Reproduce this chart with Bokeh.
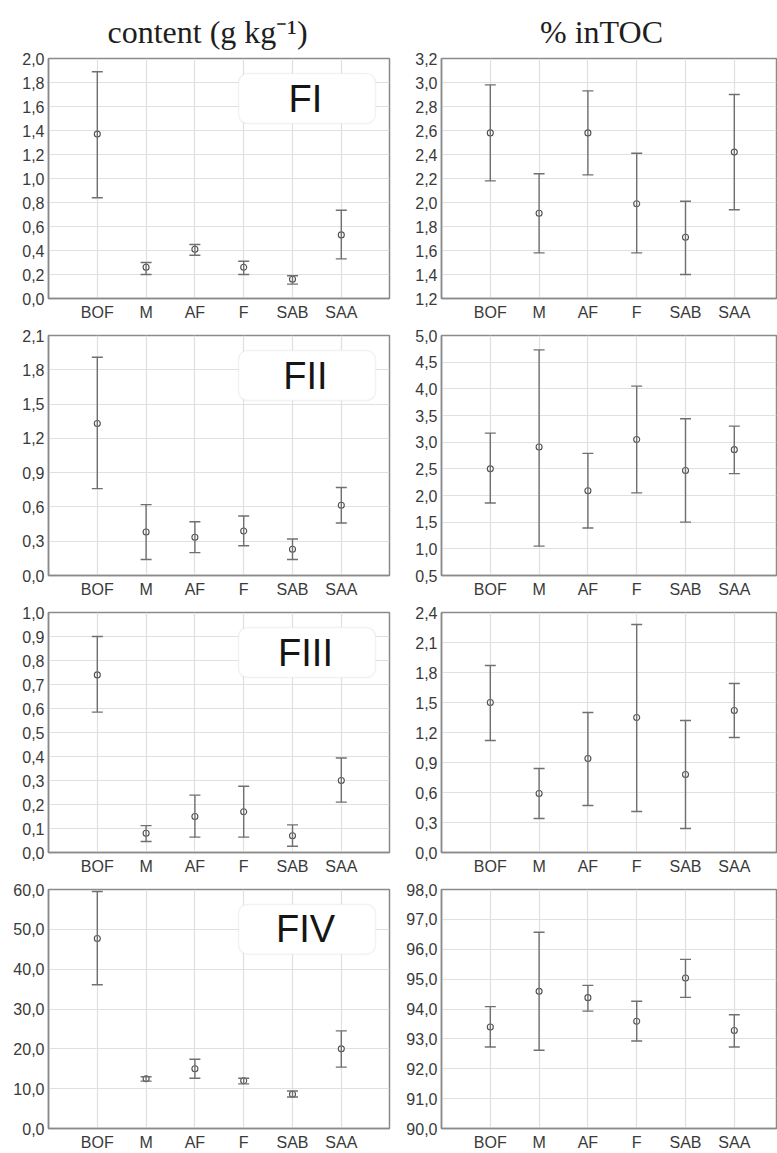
from bokeh.plotting import figure
from bokeh.models import (Range1d, FixedTicker, CustomJSTickFormatter, Whisker,
                          TeeHead, ColumnDataSource, BoxAnnotation, Label)
from bokeh.layouts import column, gridplot
from bokeh.embed import file_html
from bokeh.resources import INLINE
from bokeh.core.properties import value

# ---------------- data ----------------
categories = ["BOF", "M", "AF", "F", "SAB", "SAA"]
fractions = ["FI", "FII", "FIII", "FIV"]
headers = ["content (g kg\u207b\u00b9)", "% inTOC"]

# content (g kg-1)
fI_content_mean = [1.37, 0.26, 0.41, 0.26, 0.16, 0.53]
fI_content_low = [0.84, 0.20, 0.36, 0.20, 0.12, 0.33]
fI_content_high = [1.89, 0.30, 0.45, 0.31, 0.19, 0.735]

fII_content_mean = [1.33, 0.38, 0.335, 0.39, 0.23, 0.615]
fII_content_low = [0.76, 0.14, 0.20, 0.26, 0.14, 0.46]
fII_content_high = [1.91, 0.62, 0.47, 0.52, 0.32, 0.77]

fIII_content_mean = [0.74, 0.08, 0.15, 0.17, 0.07, 0.30]
fIII_content_low = [0.585, 0.046, 0.064, 0.064, 0.026, 0.21]
fIII_content_high = [0.90, 0.112, 0.239, 0.276, 0.115, 0.394]

fIV_content_mean = [47.7, 12.5, 15.0, 12.0, 8.6, 20.0]
fIV_content_low = [36.1, 11.9, 12.6, 11.2, 7.9, 15.4]
fIV_content_high = [59.5, 13.0, 17.4, 12.6, 9.4, 24.5]

# % in TOC
fI_toc_mean = [2.58, 1.91, 2.58, 1.99, 1.71, 2.42]
fI_toc_low = [2.18, 1.58, 2.23, 1.58, 1.40, 1.94]
fI_toc_high = [2.98, 2.24, 2.93, 2.41, 2.01, 2.90]

fII_toc_mean = [2.50, 2.91, 2.09, 3.05, 2.47, 2.86]
fII_toc_low = [1.86, 1.05, 1.39, 2.05, 1.50, 2.41]
fII_toc_high = [3.17, 4.73, 2.79, 4.05, 3.44, 3.30]

fIII_toc_mean = [1.50, 0.59, 0.94, 1.35, 0.78, 1.42]
fIII_toc_low = [1.12, 0.34, 0.47, 0.41, 0.24, 1.15]
fIII_toc_high = [1.87, 0.84, 1.40, 2.28, 1.32, 1.69]

fIV_toc_mean = [93.40, 94.59, 94.38, 93.59, 95.04, 93.28]
fIV_toc_low = [92.73, 92.62, 93.93, 92.93, 94.39, 92.73]
fIV_toc_high = [94.08, 96.57, 94.79, 94.26, 95.66, 93.81]

# y axis limits: (min, max, step)
content_axes = [(0.0, 2.0, 0.2), (0.0, 2.1, 0.3), (0.0, 1.0, 0.1), (0.0, 60.0, 10.0)]
toc_axes = [(1.2, 3.2, 0.2), (0.5, 5.0, 0.5), (0.0, 2.4, 0.3), (90.0, 98.0, 1.0)]

content_series = [
    (fI_content_mean, fI_content_low, fI_content_high),
    (fII_content_mean, fII_content_low, fII_content_high),
    (fIII_content_mean, fIII_content_low, fIII_content_high),
    (fIV_content_mean, fIV_content_low, fIV_content_high),
]
toc_series = [
    (fI_toc_mean, fI_toc_low, fI_toc_high),
    (fII_toc_mean, fII_toc_low, fII_toc_high),
    (fIII_toc_mean, fIII_toc_low, fIII_toc_high),
    (fIV_toc_mean, fIV_toc_low, fIV_toc_high),
]

# ---------------- style ----------------
SANS = "Liberation Sans"
SERIF = "Liberation Serif"
FRAME_COLOR = "#8a8a8a"
GRID_COLOR = "#e0e0e0"
BAR_COLOR = "#707070"
TEXT_COLOR = "#3a3a3a"

HEADER_H = 50
FRAME_H = 240
TOP_B = 8
BOT_B = 29
LAST_BOT_B = 24
UNIT = 48.8  # px per category step


def make_panel(series, axis, left_col, last_row, label_text):
    mean, low, high = series
    ymin, ymax, step = axis
    if left_col:
        width, b_left, b_right = 391, 48, 2
    else:
        width, b_left, b_right = 386, 50, 1
    x_end = (width - b_left - b_right) / UNIT
    bot = LAST_BOT_B if last_row else BOT_B
    height = TOP_B + FRAME_H + bot

    p = figure(width=width, height=height, output_backend="svg", toolbar_location=None,
               x_range=Range1d(0, x_end), y_range=Range1d(ymin, ymax),
               min_border_left=b_left, min_border_right=b_right,
               min_border_top=TOP_B, min_border_bottom=bot)
    p.background_fill_color = "white"
    p.border_fill_color = "white"
    p.outline_line_color = FRAME_COLOR
    p.outline_line_width = 1.5

    xs = [i + 1 for i in range(len(categories))]
    n = int(round((ymax - ymin) / step))
    yticks = [round(ymin + i * step, 6) for i in range(n + 1)]

    p.xaxis.ticker = FixedTicker(ticks=xs, minor_ticks=[])
    p.xaxis.major_label_overrides = {x: c for x, c in zip(xs, categories)}
    p.yaxis.ticker = FixedTicker(ticks=yticks, minor_ticks=[])
    p.yaxis.formatter = CustomJSTickFormatter(code="return tick.toFixed(1).replace('.', ',');")

    for ax in (p.xaxis[0], p.yaxis[0]):
        ax.axis_line_color = FRAME_COLOR
        ax.axis_line_width = 1.5
        ax.major_tick_line_color = None
        ax.minor_tick_line_color = None
        ax.major_tick_out = 0
        ax.major_tick_in = 0
        ax.major_label_text_font = SANS
        ax.major_label_text_font_size = "16px"
        ax.major_label_text_color = TEXT_COLOR
    p.yaxis.major_label_standoff = 4
    p.xaxis.major_label_standoff = 5

    p.xgrid.grid_line_color = GRID_COLOR
    p.ygrid.grid_line_color = GRID_COLOR
    p.xgrid.grid_line_width = 1.2
    p.ygrid.grid_line_width = 1.2

    src = ColumnDataSource(dict(x=xs, mean=mean, low=low, high=high))
    w = Whisker(source=src, base="x", upper="high", lower="low",
                line_color=BAR_COLOR, line_width=1.4, level="glyph",
                upper_head=TeeHead(size=11, line_color=BAR_COLOR, line_width=1.4),
                lower_head=TeeHead(size=11, line_color=BAR_COLOR, line_width=1.4))
    p.add_layout(w)
    p.scatter("x", "mean", source=src, marker="circle", size=6,
              fill_color="white", line_color="#505050", line_width=1.1)

    if label_text is not None:
        span = ymax - ymin
        # fraction label box (layout position within frame, in px from frame edges)
        box_top = ymax - span * (15 / FRAME_H)
        box_bot = ymax - span * (65 / FRAME_H)
        box = BoxAnnotation(left=(238 - 48) / UNIT, right=(375 - 48) / UNIT,
                            top=box_top, bottom=box_bot,
                            fill_color="white", fill_alpha=1.0,
                            line_color="#d4d4d4", line_width=1.5,
                            border_radius=9, level="annotation")
        p.add_layout(box)
        lab = Label(x=(305 - 48) / UNIT, y=(box_top + box_bot) / 2, text=label_text,
                    text_font=SANS, text_font_size="38px", text_color="#151515",
                    text_align="center", text_baseline="middle", level="annotation")
        p.add_layout(lab)
    return p


# header
hdr = figure(width=777, height=HEADER_H, output_backend="svg", toolbar_location=None,
             x_range=Range1d(0, 777), y_range=Range1d(0, HEADER_H),
             min_border_left=0, min_border_right=0, min_border_top=0, min_border_bottom=0)
hdr.axis.visible = False
hdr.grid.visible = False
hdr.outline_line_color = None
hdr.text(x=[207, 601], y=[HEADER_H - 31, HEADER_H - 31], text=headers,
         text_font=value(SERIF), text_font_size="32px", text_color="#1e1e1e",
         text_align="center", text_baseline="middle")

rows = []
for i, frac in enumerate(fractions):
    last = i == len(fractions) - 1
    left = make_panel(content_series[i], content_axes[i], True, last, frac)
    right = make_panel(toc_series[i], toc_axes[i], False, last, None)
    rows.append([left, right])

grid = gridplot(rows, toolbar_location=None)
layout = column(hdr, grid)

open("out.html", "w").write(file_html(layout, INLINE))
